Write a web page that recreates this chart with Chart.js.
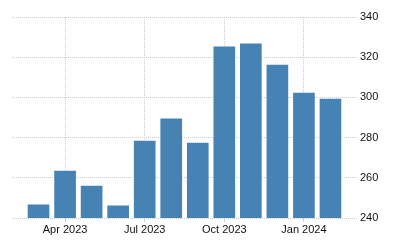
<!DOCTYPE html>
<html>
<head>
<meta charset="utf-8">
<script src="https://cdn.jsdelivr.net/npm/chart.js@4/dist/chart.umd.min.js"></script>
<style>
html,body{margin:0;padding:0;background:#fff;}
#wrap{width:400px;height:250px;position:relative;}
</style>
</head>
<body>
<div id="wrap"><canvas id="c" width="400" height="250"></canvas></div>
<script>
const months = ["Mar 2023","Apr 2023","May 2023","Jun 2023","Jul 2023","Aug 2023","Sep 2023","Oct 2023","Nov 2023","Dec 2023","Jan 2024","Feb 2024"];
const values = [246.5, 263.4, 255.9, 246.0, 278.3, 289.3, 277.3, 325.1, 326.6, 316.1, 302.2, 299.2];
const xTickLabels = ["Apr 2023","Jul 2023","Oct 2023","Jan 2024"];
const yTicks = [240, 260, 280, 300, 320, 340];

const points = values.map((v, i) => ({x: i + 1, y: v}));
const xTickPos = xTickLabels.map(l => months.indexOf(l) + 1);

const font = {family: "'Liberation Sans', Arial, sans-serif", size: 11};
new Chart(document.getElementById('c'), {
  type: 'bar',
  data: {
    datasets: [{
      data: points,
      backgroundColor: '#4682b4',
      borderWidth: 0,
      barThickness: 21
    }]
  },
  options: {
    responsive: false,
    animation: false,
    layout: {padding: {left: 12, top: 17, right: 0, bottom: 0}},
    plugins: {legend: {display: false}, tooltip: {enabled: false}},
    scales: {
      x: {
        type: 'linear',
        offset: false,
        min: 0,
        max: months.length + 1,
        afterBuildTicks: (axis) => { axis.ticks = xTickPos.map(v => ({value: v})); },
        afterFit: (s) => { s.height = 32; },
        border: {display: false, dash: [1, 1]},
        grid: {offset: false, color: '#cccccc', lineWidth: 1, drawTicks: true, tickLength: 4},
        ticks: {
          font: font, color: '#111', padding: 1, maxRotation: 0, autoSkip: false,
          callback: (v) => { const i = xTickPos.indexOf(v); return i >= 0 ? xTickLabels[i] : ''; }
        }
      },
      y: {
        position: 'right',
        min: 240,
        max: 340,
        afterBuildTicks: (axis) => { axis.ticks = yTicks.map(v => ({value: v})); },
        afterFit: (s) => { s.width = 43; },
        border: {display: false, dash: [1, 1]},
        grid: {color: '#cccccc', lineWidth: 1, drawTicks: false},
        ticks: {font: font, color: '#111', padding: 3}
      }
    }
  }
});
</script>
</body>
</html>
